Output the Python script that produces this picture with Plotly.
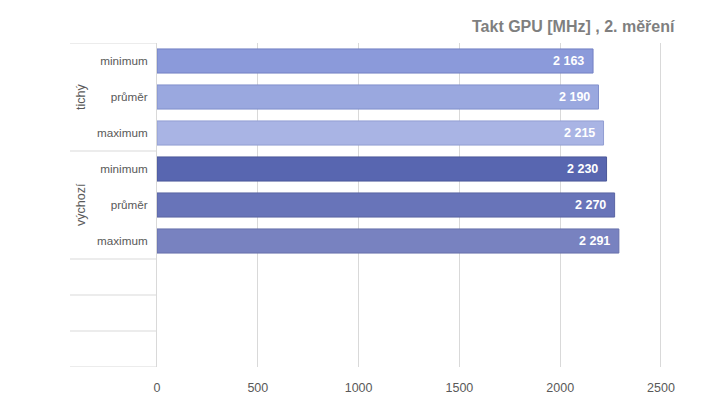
import plotly.graph_objects as go

groups = ["tichý", "výchozí"]
measures = ["minimum", "průměr", "maximum"]
values = [2163, 2190, 2215, 2230, 2270, 2291]
colors = ["#8b9ada", "#9aa8df", "#a9b4e4", "#5866b0", "#6874b9", "#7882c0"]
line_colors = ["#7381c4", "#8290cc", "#919dd2", "#4b5899", "#5a65a3", "#6670ab"]
n_rows = 9
xticks = [0, 500, 1000, 1500, 2000, 2500]

tick_labels = [m for g in groups for m in measures] + [""] * (n_rows - len(values))
ypos = list(range(len(values)))

def fmt(v):
    return f"{v:,}".replace(",", " ")

FONT = "Liberation Sans, Arial, sans-serif"
L, T, B = 157, 43, 38
W, H = 719, 407
x_max = 2505
px_per_unit = 504 / 2500
plot_w = x_max * px_per_unit
R = W - L - plot_w

fig = go.Figure()
fig.add_trace(go.Bar(
    y=ypos, x=values, orientation="h", width=0.67,
    marker=dict(color=colors, line=dict(color=line_colors, width=1)),
    hoverinfo="skip", showlegend=False,
))

for i, v in enumerate(values):
    fig.add_annotation(x=v, y=i, xref="x", yref="y", text=f"<b>{fmt(v)}</b>",
                       showarrow=False, xanchor="right", xshift=-7,
                       font=dict(family=FONT, size=12.5, color="white"))

# group labels
for gi, g in enumerate(groups):
    fig.add_annotation(x=-(L - 81) / plot_w, y=gi * 3 + 1, xref="paper", yref="y",
                       text=g, textangle=-90, showarrow=False, xanchor="center", yanchor="middle",
                       font=dict(family=FONT, size=12.5, color="#595959"))

# left separator lines
bounds = [-0.5, 2.5, 5.5, 6.5, 7.5, 8.5]
for b in bounds:
    fig.add_shape(type="line", xref="paper", yref="y", x0=-(L - 70) / plot_w, x1=0,
                  y0=b, y1=b, line=dict(color="#d9d9d9", width=1))

fig.add_annotation(x=(677 - L) / plot_w, y=1 + (T - 26) / (H - T - B), xref="paper", yref="paper",
                   text="<b>Takt GPU [MHz] , 2. měření</b>", showarrow=False, xanchor="right",
                   yanchor="middle",
                   font=dict(family=FONT, size=16, color="#7f7f7f"))

fig.update_layout(
    width=W, height=H,
    margin=dict(l=L, r=R, t=T, b=B, pad=0),
    plot_bgcolor="white", paper_bgcolor="white",
    xaxis=dict(range=[0, x_max], tickvals=xticks, ticktext=[str(t) for t in xticks],
               showgrid=True, gridcolor="#d9d9d9", gridwidth=1, zeroline=False,
               showline=False, ticks="outside", ticklen=9, tickcolor="rgba(0,0,0,0)",
               tickfont=dict(family=FONT, size=12.5, color="#595959")),
    yaxis=dict(range=[n_rows - 0.5, -0.5], tickvals=list(range(n_rows)), ticktext=tick_labels,
               showgrid=False, zeroline=False, showline=True, linecolor="#d9d9d9", linewidth=1,
               ticks="outside", ticklen=6, tickcolor="rgba(0,0,0,0)",
               tickfont=dict(family=FONT, size=11.7, color="#595959")),
)

fig.write_html("out.html")
